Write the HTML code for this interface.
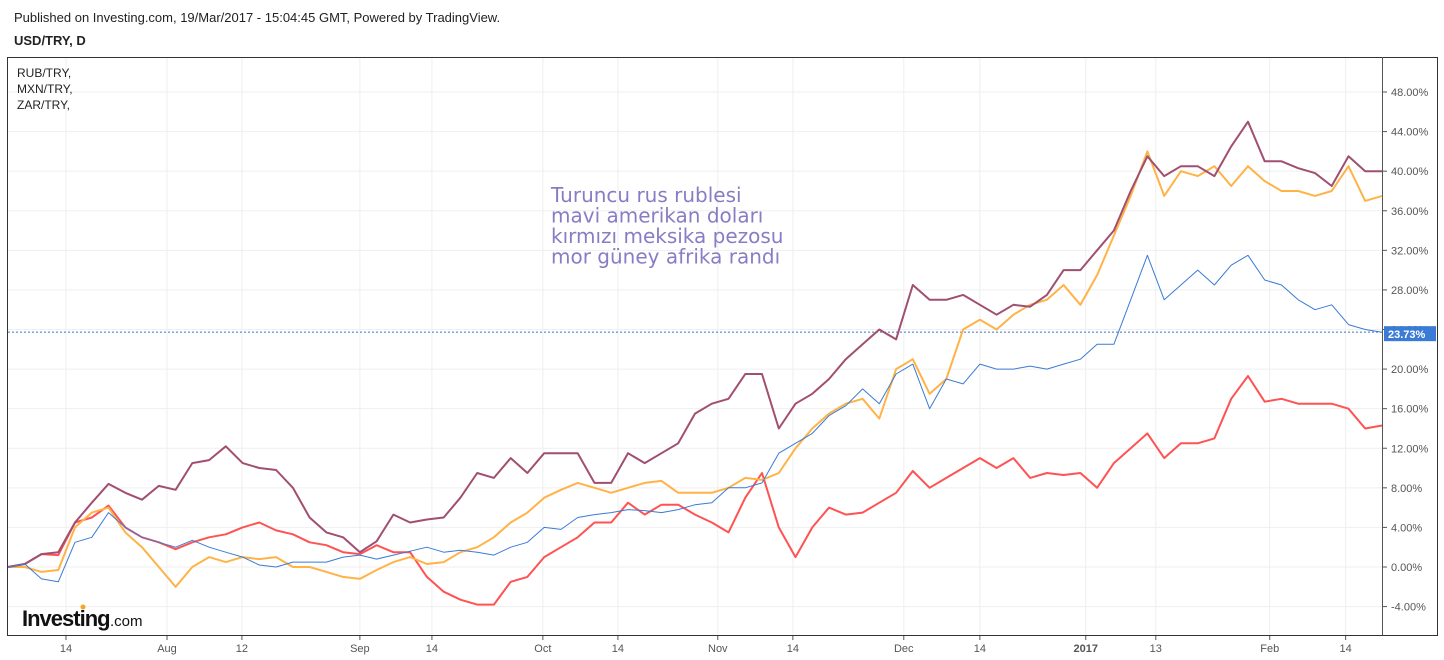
<!DOCTYPE html>
<html><head><meta charset="utf-8"><style>
body{margin:0;background:#fff;font-family:"Liberation Sans",sans-serif;}
#wrap{position:relative;width:1444px;height:660px;overflow:hidden}
.t{position:absolute;color:#222}
</style></head><body>
<div id="wrap">
<div class="t" style="left:14px;top:10px;font-size:13px">Published on Investing.com, 19/Mar/2017 - 15:04:45 GMT, Powered by TradingView.</div>
<div class="t" style="left:14px;top:33px;font-size:13px;font-weight:bold">USD/TRY, D</div>
<svg id="chart" width="1444" height="660" style="position:absolute;left:0;top:0"></svg>
</div>
<script>
const yTicks=[-4,0,4,8,12,16,20,24,28,32,36,40,44,48];
const xLabels=["14","Aug","12","Sep","14","Oct","14","Nov","14","Dec","14","2017","13","Feb","14"];
const xLabelIdx=[3.46,9.49,13.96,21.0,25.3,31.92,36.4,42.36,46.84,53.46,58.0,64.32,68.5,75.3,79.83];
const seriesNames=["ZAR/TRY","RUB/TRY","USD/TRY","MXN/TRY"];
const zar=[0,0.3,1.3,1.5,4.5,6.5,8.4,7.5,6.8,8.2,7.8,10.5,10.8,12.2,10.5,10,9.8,8,5,3.5,3,1.5,2.6,5.3,4.5,4.8,5,7,9.5,9,11,9.5,11.5,11.5,11.5,8.5,8.5,11.5,10.5,11.5,12.5,15.5,16.5,17,19.5,19.5,14,16.5,17.5,19,21,22.5,24,23,28.5,27,27,27.5,26.5,25.5,26.5,26.3,27.5,30,30,32,34,38,41.5,39.5,40.5,40.5,39.5,42.5,45,41,41,40.3,39.8,38.5,41.5,40,40];
const rub=[0,0,-0.5,-0.3,4,5.5,6,3.5,2,0,-2,0,1,0.5,1,0.8,1,0,0,-0.5,-1,-1.2,-0.3,0.5,1,0.3,0.5,1.5,2,3,4.5,5.5,7,7.8,8.5,8,7.5,8,8.5,8.7,7.5,7.5,7.5,8,9,8.8,9.5,12,14,15.5,16.5,17,15,20,21,17.5,19,24,25,24,25.5,26.5,27,28.5,26.5,29.5,33.5,37.5,42,37.5,40,39.5,40.5,38.5,40.5,39,38,38,37.5,38,40.5,37,37.5];
const usd=[0,0.3,-1.2,-1.5,2.5,3,5.5,4,3,2.5,2,2.7,2,1.5,1,0.2,0,0.5,0.5,0.5,1,1.2,0.8,1.2,1.6,2,1.5,1.7,1.5,1.2,2,2.5,4,3.8,5,5.3,5.5,5.8,5.7,5.5,5.8,6.3,6.5,8,8,8.5,11.5,12.5,13.5,15.3,16.3,18,16.5,19.5,20.5,16,19,18.5,20.5,20,20,20.3,20,20.5,21,22.5,22.5,27,31.5,27,28.5,30,28.5,30.5,31.5,29,28.5,27,26,26.5,24.5,24,23.73];
const mxn=[0,0.3,1.3,1.2,4.5,5,6.2,4,3,2.5,1.8,2.5,3,3.3,4,4.5,3.7,3.3,2.5,2.2,1.5,1.3,2.2,1.5,1.5,-1,-2.5,-3.3,-3.8,-3.8,-1.5,-1,1,2,3,4.5,4.5,6.5,5.3,6.3,6.3,5.3,4.5,3.5,7,9.5,4,1,4,6,5.3,5.5,6.5,7.5,9.7,8,9,10,11,10,11,9,9.5,9.3,9.5,8,10.5,12,13.5,11,12.5,12.5,13,17,19.3,16.7,17,16.5,16.5,16.5,16,14,14.3];
const lastValue=23.73;

const svg=document.getElementById('chart');
const NS='http://www.w3.org/2000/svg';
const L=8,R=1382,T=57,B=635;
const N=zar.length;
function X(i){return L+(R-L)*i/(N-1);}
function Y(v){return 567-v*(475/48);}
function el(tag,attrs){const e=document.createElementNS(NS,tag);for(const k in attrs)e.setAttribute(k,attrs[k]);svg.appendChild(e);return e;}
yTicks.forEach((v,i)=>{
 const g=el('line',{x1:L,x2:R,y1:Y(v),y2:Y(v),stroke:'#efefef','stroke-width':1});
 
 
 const tk=el('line',{x1:R,x2:R+5,y1:Y(v),y2:Y(v),stroke:'#555'});
 
 
 const t=el('text',{x:R+9,y:Y(v)+4,'font-size':11,fill:'#555','font-family':'Liberation Sans, sans-serif'});
 t.textContent=v.toFixed(2)+'%';
 
 
});
xLabels.forEach((s,i)=>{
 const x=X(xLabelIdx[i]);
 const g=el('line',{x1:x,x2:x,y1:T,y2:B,stroke:'#efefef'});
 
 
 const tk=el('line',{x1:x,x2:x,y1:B,y2:B+5,stroke:'#555'});
 
 
 const t=el('text',{x:x,y:B+17,'font-size':11,fill:'#555','text-anchor':'middle','font-family':'Liberation Sans, sans-serif','font-weight':s==='2017'?'bold':'normal'});
 t.textContent=s;
 
 
});
const fr=el('rect',{x:7.5,y:57.5,width:1430,height:578,fill:'none',stroke:'#333'});


const ax=el('line',{x1:R+0.5,x2:R+0.5,y1:T,y2:B,stroke:'#555'});


const dl=el('line',{x1:L,x2:R,y1:Y(lastValue),y2:Y(lastValue),stroke:'#3a73c8','stroke-dasharray':'2,2'});


const series=[[mxn,'#ff5252',2,'mxn-line'],[rub,'#ffb347',2,'rub-line'],[zar,'#a04f70',2,'zar-line'],[usd,'#3a7bd5',1,'usd-line']];
series.forEach(s=>{
 const p=el('polyline',{points:s[0].map((v,i)=>X(i).toFixed(1)+','+Y(v).toFixed(1)).join(' '),fill:'none',stroke:s[1],'stroke-width':s[2],'stroke-linejoin':'round'});
 
 
});
const pb=el('rect',{x:R+2,y:Y(lastValue)-6,width:52,height:15,fill:'#3a7bd5'});


const pt=el('text',{x:R+6,y:Y(lastValue)+6,'font-size':11,fill:'#fff','font-weight':'bold','font-family':'Liberation Sans, sans-serif'});
pt.textContent=lastValue.toFixed(2)+'%';


["RUB/TRY,","MXN/TRY,","ZAR/TRY,"].forEach((s,i)=>{
 const t=el('text',{x:17,y:77+i*16,'font-size':12,fill:'#222','font-family':'Liberation Sans, sans-serif'});
 t.textContent=s;
 
 
});
["Turuncu rus rublesi","mavi amerikan doları","kırmızı meksika pezosu","mor güney afrika randı"].forEach((s,i)=>{
 const t=el('text',{x:551,y:202+i*20.5,'font-size':20,fill:'#8a7cc4','font-family':'DejaVu Sans, sans-serif'});
 t.textContent=s;
 
 
});
const lg=el('text',{x:22,y:626,'font-size':22,fill:'#111','font-weight':'bold','font-family':'Liberation Sans, sans-serif','letter-spacing':'-1'});
lg.textContent='Investing';


const lc=el('text',{x:110,y:626,'font-size':15,fill:'#111','font-family':'Liberation Sans, sans-serif'});
lc.textContent='.com';


const dot=el('circle',{cx:83,cy:607,r:2.5,fill:'#f5a623'});


</script>
</body></html>
